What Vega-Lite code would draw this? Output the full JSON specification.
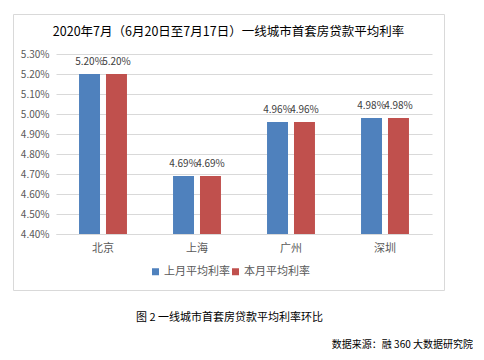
{
  "$schema": "https://vega.github.io/schema/vega-lite/v6.json",
  "padding": {"left": 12, "top": 13, "right": 0, "bottom": 0},
  "autosize": {"type": "pad"},
  "spacing": 6,
  "background": "white",
  "config": {"font": "Noto Sans CJK SC", "view": {"stroke": null}},
  "datasets": {
    "rates": [
      {"city": "北京", "series": "上月平均利率", "rate": 0.052},
      {"city": "北京", "series": "本月平均利率", "rate": 0.052},
      {"city": "上海", "series": "上月平均利率", "rate": 0.0469},
      {"city": "上海", "series": "本月平均利率", "rate": 0.0469},
      {"city": "广州", "series": "上月平均利率", "rate": 0.0496},
      {"city": "广州", "series": "本月平均利率", "rate": 0.0496},
      {"city": "深圳", "series": "上月平均利率", "rate": 0.0498},
      {"city": "深圳", "series": "本月平均利率", "rate": 0.0498}
    ],
    "notes": [
      {"kind": "caption", "t": "图 2  一线城市首套房贷款平均利率环比"},
      {"kind": "source", "t": "数据来源：融 360 大数据研究院"}
    ]
  },
  "vconcat": [
    {
      "width": 431,
      "height": 276,
      "view": {"stroke": "#d9d9d9", "strokeWidth": 1},
      "title": {
        "text": "2020年7月（6月20日至7月17日）一线城市首套房贷款平均利率",
        "fontSize": 12.5,
        "fontWeight": "normal",
        "color": "#000000",
        "offset": -24,
        "anchor": "middle",
        "frame": "group"
      },
      "data": {"name": "rates"},
      "encoding": {
        "x": {
          "field": "city",
          "type": "nominal",
          "sort": ["北京", "上海", "广州", "深圳"],
          "scale": {"range": [43, 419], "paddingInner": 0.49, "paddingOuter": 0.245},
          "axis": {
            "title": null,
            "offset": -56,
            "labelAngle": 0,
            "ticks": false,
            "labelPadding": 8,
            "labelFontSize": 11,
            "labelColor": "#595959",
            "domainColor": "#d9d9d9",
            "grid": false
          }
        },
        "xOffset": {
          "field": "series",
          "type": "nominal",
          "sort": ["上月平均利率", "本月平均利率"],
          "scale": {"paddingInner": 0.222, "paddingOuter": 0}
        },
        "y": {
          "field": "rate",
          "type": "quantitative",
          "scale": {"domain": [0.044, 0.053], "range": [220, 40], "nice": false, "zero": false},
          "axis": {
            "title": null,
            "format": ".2%",
            "values": [0.044, 0.045, 0.046, 0.047, 0.048, 0.049, 0.05, 0.051, 0.052, 0.053],
            "offset": -43,
            "ticks": false,
            "domain": false,
            "labelPadding": 7,
            "labelFontSize": 10,
            "labelColor": "#595959",
            "gridColor": "#d9d9d9"
          }
        }
      },
      "layer": [
        {
          "mark": {"type": "bar"},
          "encoding": {
            "y2": {"datum": 0.044},
            "color": {
              "field": "series",
              "type": "nominal",
              "sort": ["上月平均利率", "本月平均利率"],
              "scale": {"domain": ["上月平均利率", "本月平均利率"], "range": ["#4f81bd", "#c0504d"]},
              "legend": {
                "title": null,
                "orient": "none",
                "legendX": 137,
                "legendY": 252,
                "direction": "horizontal",
                "symbolType": "square",
                "symbolSize": 49,
                "symbolStrokeWidth": 0,
                "labelFontSize": 11,
                "labelColor": "#595959",
                "labelOffset": 3,
                "columnPadding": 0
              }
            }
          }
        },
        {
          "mark": {"type": "text", "baseline": "bottom", "dy": -7, "fontSize": 10, "color": "#404040"},
          "encoding": {"text": {"field": "rate", "type": "quantitative", "format": ".2%"}}
        }
      ]
    },
    {
      "width": 460,
      "height": 60,
      "data": {"name": "notes"},
      "layer": [
        {
          "transform": [{"filter": "datum.kind === 'caption'"}],
          "mark": {"type": "text", "fontSize": 11, "color": "#000000", "align": "center", "baseline": "middle"},
          "encoding": {
            "text": {"field": "t", "type": "nominal"},
            "x": {"datum": 0.4707, "type": "quantitative", "scale": {"domain": [0, 1], "nice": false}, "axis": null},
            "y": {"datum": 0.65, "type": "quantitative", "scale": {"domain": [0, 1], "nice": false}, "axis": null}
          }
        },
        {
          "transform": [{"filter": "datum.kind === 'source'"}],
          "mark": {"type": "text", "fontSize": 10, "color": "#000000", "align": "right", "baseline": "middle"},
          "encoding": {
            "text": {"field": "t", "type": "nominal"},
            "x": {"datum": 1, "type": "quantitative"},
            "y": {"datum": 0.2, "type": "quantitative"}
          }
        }
      ]
    }
  ]
}
